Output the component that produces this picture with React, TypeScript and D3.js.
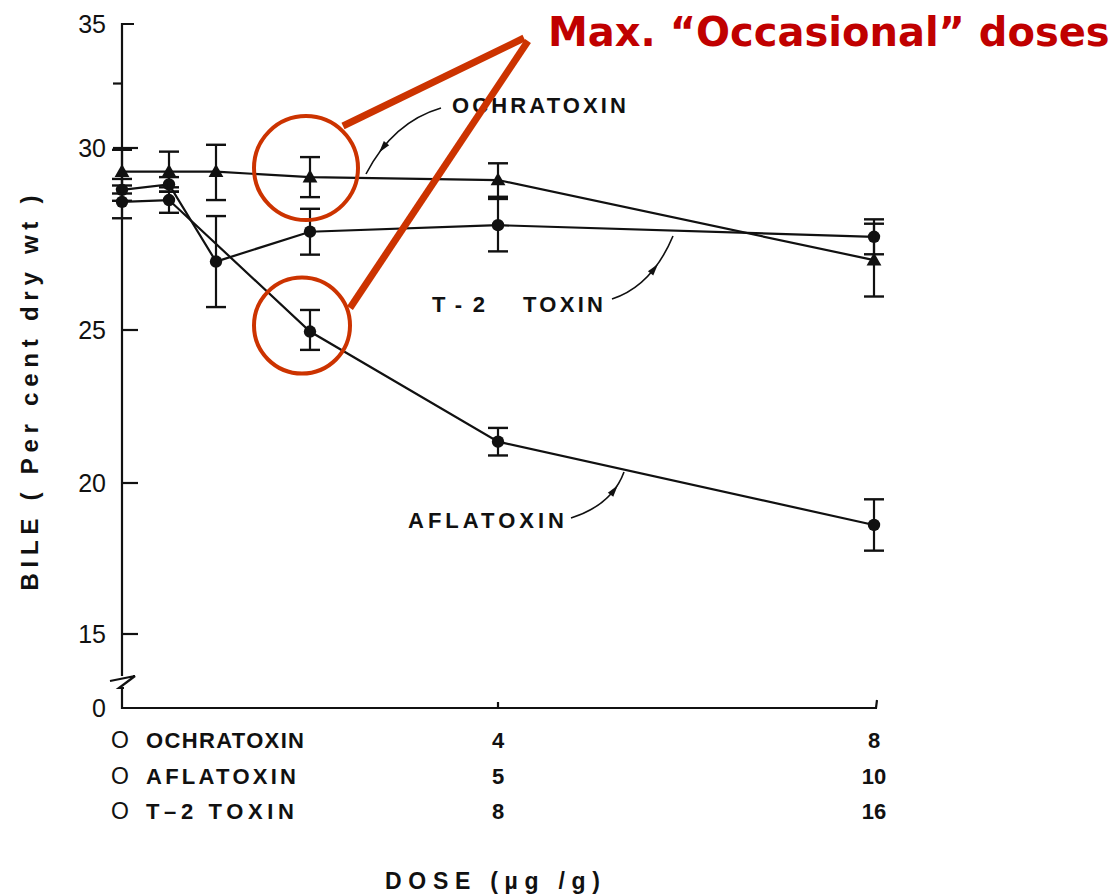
import React from "react";
import * as d3 from "d3";

const W = 1119;
const H = 895;

// Bile content (% dry wt) against dose; every toxin has six dose steps that share one x position each.
const ochratoxinDose = [0, 0.5, 1, 2, 4, 8];
const ochratoxinBile = [29.35, 29.35, 29.35, 29.2, 29.12, 26.92];
const ochratoxinSem = [0.6, 0.55, 0.78, 0.55, 0.46, 1.0];

const t2Dose = [0, 1, 2, 4, 8, 16];
const t2Bile = [28.85, 29.0, 26.88, 27.7, 27.88, 27.56];
const t2Sem = [0.3, 0.2, 1.25, 0.63, 0.72, 0.48];

const aflatoxinDose = [0, 0.625, 2.5, 5, 10];
const aflatoxinBile = [28.52, 28.57, 24.95, 21.35, 18.61];
const aflatoxinSem = [0.45, 0.35, 0.6, 0.45, 0.85];

// Axis ticks
const yTicks = [35, 30, 25, 20, 15, 0];
const ochratoxinTicks = [4, 8];
const aflatoxinTicks = [5, 10];
const t2Ticks = [8, 16];

const INK = "#111";
const RED_LINE = "#cc3300";
const RED_TEXT = "#c00000";
const FONT = "'Liberation Sans', Arial, sans-serif";

// Hand-drawn ordinate: the original axis is not uniformly spaced, and broken between 0 and 15.
const y = d3
  .scaleLinear()
  .domain([0, 15, 20, 25, 30, 35])
  .range([708, 634, 483, 330, 148, 24]);

const X0 = 122;
const X1 = 874;
const xO = d3.scaleLinear().domain([0, 8]).range([X0, X1]);
const xA = d3.scaleLinear().domain([0, 10]).range([X0, X1]);
const xT = d3.scaleLinear().domain([0, 16]).range([X0, X1]);

type Pt = { x: number; y: number; lo: number; hi: number };

function points(dose: number[], bile: number[], sem: number[], x: d3.ScaleLinear<number, number>): Pt[] {
  return dose.map((d, i) => ({
    x: x(d),
    y: y(bile[i]),
    lo: y(bile[i] - sem[i]),
    hi: y(bile[i] + sem[i]),
  }));
}

const line = d3
  .line<Pt>()
  .x((p) => p.x)
  .y((p) => p.y);

function Series({ pts, shape }: { pts: Pt[]; shape: "tri" | "dot" }) {
  const tri = d3.symbol().type(d3.symbolTriangle).size(95)() as string;
  return (
    <g>
      <path d={line(pts) ?? ""} fill="none" stroke={INK} strokeWidth={2.2} />
      {pts.map((p, i) => (
        <g key={i}>
          <line x1={p.x} x2={p.x} y1={p.lo} y2={p.hi} stroke={INK} strokeWidth={2.2} />
          <line x1={p.x - 10} x2={p.x + 10} y1={p.lo} y2={p.lo} stroke={INK} strokeWidth={2.4} />
          <line x1={p.x - 10} x2={p.x + 10} y1={p.hi} y2={p.hi} stroke={INK} strokeWidth={2.4} />
          {shape === "tri" ? (
            <path d={tri} transform={`translate(${p.x},${p.y + 1})`} fill={INK} />
          ) : (
            <circle cx={p.x} cy={p.y} r={6.2} fill={INK} />
          )}
        </g>
      ))}
    </g>
  );
}

// Curved pointer from a series label to its line, with a small arrowhead along the curve.
function Pointer({ p0, c, p1, t }: { p0: [number, number]; c: [number, number]; p1: [number, number]; t: number }) {
  const bx = (1 - t) * (1 - t) * p0[0] + 2 * (1 - t) * t * c[0] + t * t * p1[0];
  const by = (1 - t) * (1 - t) * p0[1] + 2 * (1 - t) * t * c[1] + t * t * p1[1];
  const dx = 2 * (1 - t) * (c[0] - p0[0]) + 2 * t * (p1[0] - c[0]);
  const dy = 2 * (1 - t) * (c[1] - p0[1]) + 2 * t * (p1[1] - c[1]);
  const ang = (Math.atan2(dy, dx) * 180) / Math.PI;
  return (
    <g>
      <path
        d={`M${p0[0]},${p0[1]} Q${c[0]},${c[1]} ${p1[0]},${p1[1]}`}
        fill="none"
        stroke={INK}
        strokeWidth={1.6}
      />
      <path d="M6,0 L-6,-3.4 L-6,3.4 Z" transform={`translate(${bx},${by}) rotate(${ang})`} fill={INK} />
    </g>
  );
}

export default function App() {
  const och = points(ochratoxinDose, ochratoxinBile, ochratoxinSem, xO);
  const t2 = points(t2Dose, t2Bile, t2Sem, xT);
  const afl = points(aflatoxinDose, aflatoxinBile, aflatoxinSem, xA);

  const yBase = y(0);
  const rowY = [748, 784, 819];
  const rows = [
    { name: "OCHRATOXIN", len: 158, ticks: ochratoxinTicks, x: xO },
    { name: "AFLATOXIN", len: 150, ticks: aflatoxinTicks, x: xA },
    { name: "T\u20132 TOXIN", len: 148, ticks: t2Ticks, x: xT },
  ];

  const lblStyle = { fontFamily: FONT, fontWeight: 700 as const, fill: INK };

  // Highlighted "occasional dose" points: ochratoxin 2 µg/g and aflatoxin 2.5 µg/g
  const hiO = och[3];
  const hiA = afl[2];

  return (
    <svg width={W} height={H} style={{ display: "block", position: "absolute", left: 0, top: 0 }}>
      <rect width={W} height={H} fill="#fff" />

      {/* y axis with break */}
      <g stroke={INK} strokeWidth={2.2} fill="none">
        <path d={`M${X0 + 12},${y(35)} L${X0},${y(35)} L${X0},676`} />
        <path d="M110,681 L135,676 L119,688 L124,688" />
        <path d={`M${X0},688 L${X0},${yBase} L${X1 + 2},${yBase} L${X1 + 3},${yBase - 8}`} />
        <line x1={xO(4)} x2={xO(4)} y1={yBase} y2={yBase - 6} />
        <line x1={X0 - 9} x2={X0} y1={y(32.6)} y2={y(32.6)} />
        {yTicks
          .filter((v) => v > 0 && v < 35)
          .map((v) => (
            <line key={v} x1={v === 30 ? X0 - 9 : X0} x2={X0 + 16} y1={y(v)} y2={y(v)} />
          ))}
      </g>
      {yTicks.map((v) => (
        <text
          key={v}
          x={106}
          y={y(v)}
          dy="0.36em"
          textAnchor="end"
          fontSize={25}
          style={{ fontFamily: FONT, fill: INK }}
        >
          {v}
        </text>
      ))}

      {/* y title */}
      <text
        transform="translate(38,393) rotate(-90)"
        textAnchor="middle"
        fontSize={24}
        textLength={395}
        lengthAdjust="spacing"
        style={lblStyle}
      >
        BILE ( Per cent dry wt )
      </text>

      {/* x axis: one label row per toxin */}
      {rows.map((r, i) => (
        <g key={r.name} fontSize={22} style={lblStyle}>
          <text x={111} y={rowY[i]} style={{ fontFamily: FONT, fontWeight: 400 }} fontSize={23}>
            O
          </text>
          <text x={146} y={rowY[i]} textLength={r.len} lengthAdjust="spacing">
            {r.name}
          </text>
          {r.ticks.map((t) => (
            <text key={t} x={r.x(t)} y={rowY[i]} textAnchor="middle">
              {t}
            </text>
          ))}
        </g>
      ))}
      <text x={385} y={889} fontSize={23} textLength={215} lengthAdjust="spacing" style={lblStyle}>
        DOSE (µg /g)
      </text>

      {/* series */}
      <Series pts={afl} shape="dot" />
      <Series pts={t2} shape="dot" />
      <Series pts={och} shape="tri" />

      {/* series labels */}
      <text x={452} y={113} fontSize={22} textLength={174} lengthAdjust="spacing" style={lblStyle}>
        OCHRATOXIN
      </text>
      <Pointer p0={[441, 108]} c={[393, 122]} p1={[366, 174]} t={0.72} />
      <text x={432} y={312} fontSize={22} textLength={53} lengthAdjust="spacing" style={lblStyle}>
        T-2
      </text>
      <text x={523} y={312} fontSize={22} textLength={80} lengthAdjust="spacing" style={lblStyle}>
        TOXIN
      </text>
      <Pointer p0={[612, 299]} c={[652, 286]} p1={[673, 236]} t={0.62} />
      <text x={408} y={528} fontSize={22} textLength={156} lengthAdjust="spacing" style={lblStyle}>
        AFLATOXIN
      </text>
      <Pointer p0={[571, 518]} c={[612, 505]} p1={[624, 472]} t={0.7} />

      {/* highlighted doses */}
      <g fill="none" stroke={RED_LINE}>
        <circle cx={hiO.x - 4} cy={hiO.y - 9} r={52} strokeWidth={4} />
        <circle cx={hiA.x - 8} cy={hiA.y - 6} r={48} strokeWidth={4} />
        <line x1={343} y1={126} x2={524} y2={38} strokeWidth={7} />
        <line x1={350} y1={308} x2={528} y2={41} strokeWidth={7} />
      </g>
      <text
        x={548}
        y={46}
        fontSize={40}
        style={{ fontFamily: "'Comic Sans MS', 'DejaVu Sans', sans-serif", fontWeight: 700, fill: RED_TEXT }}
      >
        Max. “Occasional” doses
      </text>
    </svg>
  );
}
